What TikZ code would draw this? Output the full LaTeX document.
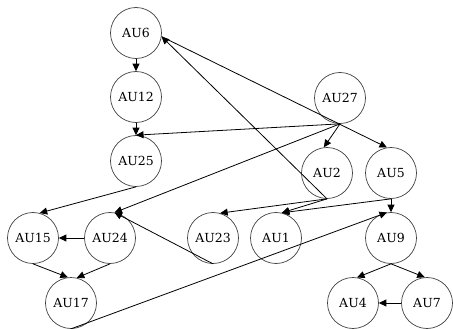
\documentclass[tikz,border=0pt]{standalone}
\usepackage{fontspec}
\setmainfont{DejaVu Serif}
\newfontfamily\titlefont{Liberation Serif}
\usetikzlibrary{arrows.meta}
\begin{document}
\begin{tikzpicture}[x=1pt,y=-1pt,
  au/.style={circle,draw=black!75,line width=0.7pt,minimum size=51pt,inner sep=0pt,font=\fontsize{12.5}{14}\selectfont},
  edge/.style={line width=0.8pt,-{Triangle[length=7.5pt,width=7pt]}}]
\useasboundingbox (0,0) rectangle (453,329);
\begin{scope}
\clip (0,0) rectangle (453,329);
\node[anchor=base,inner sep=0pt,font=\titlefont\bfseries\fontsize{20}{24}\selectfont] (title) at (240,-4) {Impact Relation Diagram};
\end{scope}
\node[au] (AU6)  at (136,33)  {AU6};
\node[au] (AU12) at (136,97)  {AU12};
\node[au] (AU25) at (136,161) {AU25};
\node[au] (AU27) at (340,98)  {AU27};
\node[au] (AU2)  at (327,173) {AU2};
\node[au] (AU5)  at (391,173) {AU5};
\node[au] (AU15) at (33,238)  {AU15};
\node[au] (AU24) at (110,238) {AU24};
\node[au] (AU23) at (213,238) {AU23};
\node[au] (AU1)  at (276,238) {AU1};
\node[au] (AU9)  at (391,238) {AU9};
\node[au] (AU17) at (71,303)  {AU17};
\node[au] (AU4)  at (353,303) {AU4};
\node[au] (AU7)  at (427,303) {AU7};
\draw[edge] (AU6.south) -- (AU12.north);
\draw[edge] (AU12.south) -- (AU25.north);
\draw[edge] (AU27.south) -- (AU25.north);
\draw[edge] (AU27.south) -- (AU24.80);
\draw[edge] (AU27.south) -- (AU2.97);
\draw[edge] (AU6.-8) -- (AU5.99);
\draw[edge] (AU2.south) -- (AU6.-8);
\draw[edge] (AU2.south) -- (AU23.74);
\draw[edge] (AU2.south) -- (AU1.77);
\draw[edge] (AU5.south) -- (AU1.77);
\draw[edge] (AU5.south) -- (AU9.north);
\draw[edge] (AU25.south) -- (AU15.75);
\draw[edge] (AU23.south) -- (AU24.80);
\draw[edge] (AU24.west) -- (AU15.east);
\draw[edge] (AU15.south) -- (AU17.97);
\draw[edge] (AU24.south) -- (AU17.77);
\draw[edge] (AU17.south) -- (AU9.99);
\draw[edge] (AU9.south) -- (AU4.81);
\draw[edge] (AU9.south) -- (AU7.95);
\draw[edge] (AU7.west) -- (AU4.east);
\end{tikzpicture}
\end{document}
